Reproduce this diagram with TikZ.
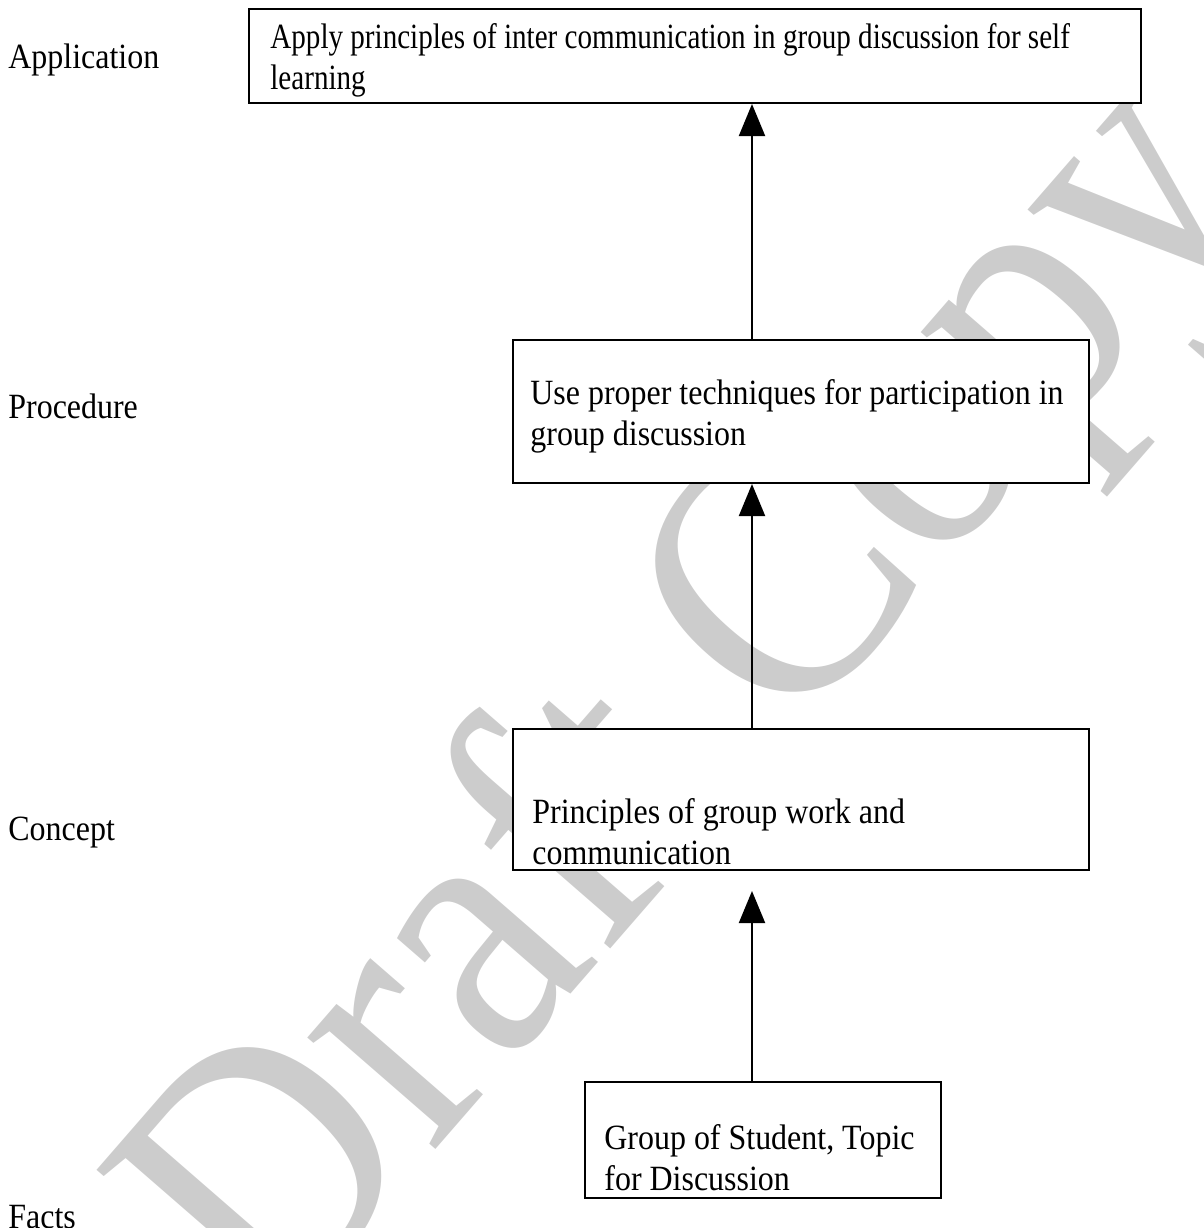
\documentclass[tikz,border=0pt]{standalone}
\usepackage{fontspec}
\setmainfont{Liberation Serif}[FakeStretch=0.90]
\newfontfamily\narrowfont{Liberation Serif}[FakeStretch=0.82]
\usetikzlibrary{arrows.meta}

\newcommand{\bodyfont}{\fontsize{17.75}{20.5}\selectfont}
\newcommand{\markfont}{\fontsize{185}{190}\selectfont}

\tikzset{
  box/.style={draw, line width=1pt, fill=white, inner sep=0pt},
  txt/.style={anchor=base west, align=left, inner sep=0pt, font=\bodyfont},
  lvl/.style={anchor=base west, inner sep=0pt, font=\bodyfont},
  up/.style={-{Triangle[width=13pt,length=16pt]}, line width=1pt},
  wmark/.style={inner sep=0pt, text=black!20, font=\markfont, rotate=49},
}

\begin{document}
\begin{tikzpicture}[x=0.5pt,y=-0.5pt]
\useasboundingbox (0,0) rectangle (1204,1228);
% watermark
\node[wmark] (draft) at (700,708) {Draft Copy};
% levels
\node[lvl] (lapp) at (8,68) {Application};
\node[lvl] (lproc) at (8,418) {Procedure};
\node[lvl] (lconc) at (8,840) {Concept};
\node[lvl] (lfact) at (8,1228) {Facts};
% boxes
\node[box, minimum width=446pt, minimum height=47pt] (app) at (695,56) {};
\node[box, minimum width=288pt, minimum height=71.5pt] (proc) at (801,411.5) {};
\node[box, minimum width=288pt, minimum height=70.5pt] (conc) at (801,799.5) {};
\node[box, minimum width=178pt, minimum height=58pt] (fact) at (763,1140) {};
% box texts (base = last line)
\node[txt, font=\bodyfont\narrowfont] (tapp) at (270,89) {Apply principles of inter communication in group discussion for self\\learning};
\node[txt] (tproc) at (530,445) {Use proper techniques for participation in\\group discussion};
\node[txt] (tconc) at (532,864) {Principles of group work and\\communication};
\node[txt] (tfact) at (604,1190) {Group of Student, Topic\\for Discussion};
% arrows
\coordinate (ax) at (752,0);
\draw[up] (ax |- proc.north) -- (ax |- app.south);
\draw[up] (ax |- conc.north) -- (ax |- proc.south);
\draw[up] (ax |- fact.north) -- ([yshift=-10pt]ax |- conc.south);
\end{tikzpicture}
\end{document}
